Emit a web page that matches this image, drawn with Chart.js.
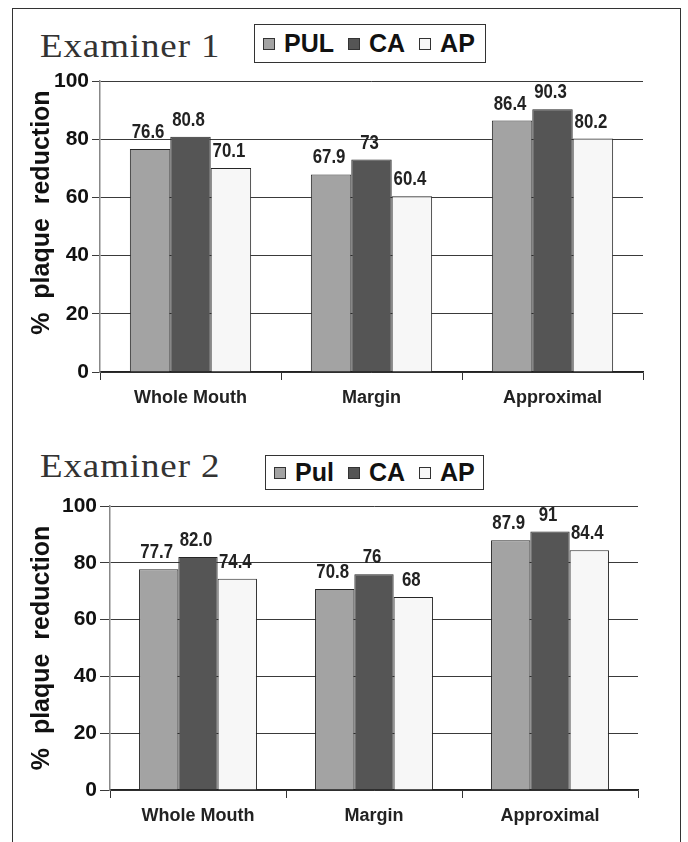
<!DOCTYPE html>
<html>
<head>
<meta charset="utf-8">
<script src="https://cdn.jsdelivr.net/npm/chart.js@4.4.1/dist/chart.umd.min.js"></script>
<style>
  body { margin: 0; background: #fff; width: 688px; height: 842px; overflow: hidden; position: relative; font-family: "Liberation Sans", Arial, sans-serif; }
  #frame { position: absolute; left: 12px; top: 8px; width: 667px; height: 900px; border: 1.5px solid #333; border-bottom: none; }
  .title { position: absolute; left: 40px; font-family: "Liberation Serif", "Times New Roman", serif; font-size: 33px; letter-spacing: 0.8px; line-height: 33px; color: #333; white-space: nowrap; transform: scaleX(1.12); transform-origin: left top; }
  .legend { position: absolute; border: 1.5px solid #333; display: flex; align-items: center; box-sizing: border-box; padding-left: 8px; font-weight: bold; font-size: 25px; color: #111; background: #fff; }
  .legend .item { display: inline-flex; align-items: center; margin-right: 14px; }
  .legend .sw { display: inline-block; width: 10px; height: 10px; border: 1px solid #333; margin-right: 9px; }
  .wrap { position: absolute; }
</style>
</head>
<body>
<div id="frame"></div>
<div class="title" style="top:30px">Examiner 1</div>
<div class="legend" id="legend1" style="left:254px; top:24px; width:232px; height:39px"></div>
<div class="wrap" style="left:13px; top:61px; width:668px; height:349px"><canvas id="chart1"></canvas></div>

<div class="title" style="top:450px">Examiner 2</div>
<div class="legend" id="legend2" style="left:265px; top:455px; width:219px; height:35px"></div>
<div class="wrap" style="left:13px; top:486px; width:668px; height:356px"><canvas id="chart2"></canvas></div>

<script>
const categories = ['Whole Mouth', 'Margin', 'Approximal'];

const ex1Series = ['PUL', 'CA', 'AP'];
const ex1PUL = ['76.6', '67.9', '86.4'];
const ex1CA = ['80.8', '73', '90.3'];
const ex1AP = ['70.1', '60.4', '80.2'];

const ex2Series = ['Pul', 'CA', 'AP'];
const ex2PUL = ['77.7', '70.8', '87.9'];
const ex2CA = ['82.0', '76', '91'];
const ex2AP = ['74.4', '68', '84.4'];

const yMin = 0, yMax = 100, yStep = 20;
const seriesColors = ['#a3a3a3', '#555555', '#f7f7f7'];

const sans = '"Liberation Sans", Arial, sans-serif';

// draws the number above each bar, squeezed a bit to look condensed
const valueLabels = {
    id: 'valueLabels',
    afterDatasetsDraw(chart) {
        const ctx = chart.ctx;
        ctx.save();
        ctx.font = 'bold 21px ' + sans;
        ctx.fillStyle = '#222';
        ctx.textAlign = 'center';
        ctx.textBaseline = 'alphabetic';
        chart.data.datasets.forEach((ds, i) => {
            chart.getDatasetMeta(i).data.forEach((bar, j) => {
                ctx.save();
                ctx.translate(bar.x - 2, bar.y - 11);
                ctx.scale(0.8, 1);
                ctx.fillText(ds.data[j], 0, 0);
                ctx.restore();
            });
        });
        ctx.restore();
    }
};

function buildLegend(id, names) {
    const box = document.getElementById(id);
    names.forEach((name, i) => {
        const item = document.createElement('span');
        item.className = 'item';
        const sw = document.createElement('span');
        sw.className = 'sw';
        sw.style.background = seriesColors[i];
        item.appendChild(sw);
        item.appendChild(document.createTextNode(name));
        box.appendChild(item);
    });
}

function makeChart(id, names, series, opts) {
    const ctx = document.getElementById(id).getContext('2d');
    return new Chart(ctx, {
        type: 'bar',
        data: {
            labels: categories,
            datasets: series.map((values, i) => ({
                label: names[i],
                data: values,
                backgroundColor: seriesColors[i],
                borderColor: '#262626',
                borderWidth: 1,
                categoryPercentage: 0.67,
                barPercentage: 1.0,
            })),
        },
        options: {
            responsive: true,
            maintainAspectRatio: false,
            animation: false,
            layout: { padding: { top: 20, right: opts.right, left: 0, bottom: 0 } },
            plugins: { legend: { display: false }, tooltip: { enabled: false } },
            scales: {
                x: {
                    afterFit: (s) => { s.height = opts.xHeight; },
                    grid: { display: true, drawOnChartArea: false, drawTicks: true, tickLength: 8, color: '#333', offset: true },
                    border: { display: true, color: '#222', width: 1.5 },
                    ticks: { color: '#222', padding: 7, font: { family: sans, size: 18, weight: 'bold' } },
                },
                y: {
                    min: yMin,
                    max: yMax,
                    afterFit: (s) => { s.width = opts.yWidth; },
                    grid: { color: '#3a3a3a', lineWidth: 1, tickLength: opts.tick, drawTicks: true },
                    border: { display: true, color: '#888', width: 1.5 },
                    ticks: { stepSize: yStep, color: '#111', padding: 3, font: { family: sans, size: 21, weight: 'bold' } },
                    title: {
                        display: true,
                        text: opts.yTitle,
                        color: '#111',
                        padding: { top: 14, bottom: 0 },
                        font: { family: sans, size: 25, weight: 'bold' },
                    },
                },
            },
        },
        plugins: [valueLabels],
    });
}

buildLegend('legend1', ex1Series);
buildLegend('legend2', ex2Series);

makeChart('chart1', ex1Series, [ex1PUL, ex1CA, ex1AP],
    { right: 38, xHeight: 38, yWidth: 87, tick: 8, yTitle: '    %  plaque  reduction' });
makeChart('chart2', ex2Series, [ex2PUL, ex2CA, ex2AP],
    { right: 43, xHeight: 52, yWidth: 97, tick: 10, yTitle: '%  plaque  reduction' });
</script>
</body>
</html>
